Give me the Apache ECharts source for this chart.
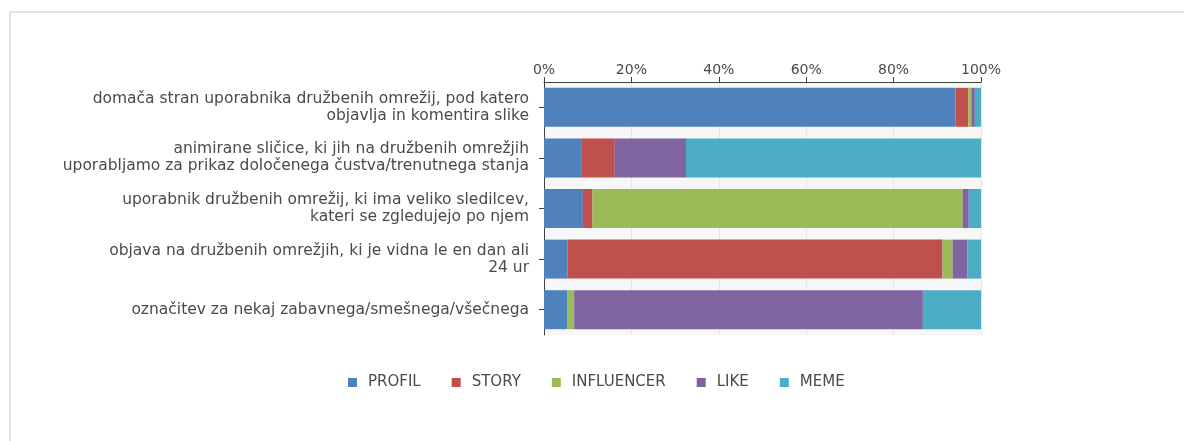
<!DOCTYPE html>
<html>
<head>
<meta charset="utf-8">
<script src="https://cdn.jsdelivr.net/npm/echarts@6/dist/echarts.min.js"></script>
<style>
html, body { margin: 0; padding: 0; background: #fff; }
#frame { position: absolute; left: 9px; top: 11px; width: 1200px; height: 460px; border: 2px solid #e2e2e2; box-sizing: border-box; }
#chart { position: absolute; left: 0; top: 0; width: 1184px; height: 441px; }
</style>
</head>
<body>
<div id="frame"></div>
<div id="chart"></div>
<script>
// kategorije (od zgoraj navzdol)
const categories = [
  'domača stran uporabnika družbenih omrežij, pod katero\nobjavlja in komentira slike',
  'animirane sličice, ki jih na družbenih omrežjih\nuporabljamo za prikaz določenega čustva/trenutnega stanja',
  'uporabnik družbenih omrežij, ki ima veliko sledilcev,\nkateri se zgledujejo po njem',
  'objava na družbenih omrežjih, ki je vidna le en dan ali\n24 ur',
  'označitev za nekaj zabavnega/smešnega/všečnega'
];
// deleži v %
const profil = [94.2, 8.5, 8.9, 5.4, 5.4];
const story = [2.9, 7.7, 2.2, 85.8, 0];
const influencer = [0.7, 0, 84.7, 2.3, 1.5];
const like = [0.8, 16.3, 1.4, 3.4, 79.8];
const meme = [1.4, 67.5, 2.8, 3.1, 13.3];
const xTicks = [0, 20, 40, 60, 80, 100];

const seriesNames = ['PROFIL', 'STORY', 'INFLUENCER', 'LIKE', 'MEME'];
const seriesData = [profil, story, influencer, like, meme];
const colors = ['#4f81bd', '#c0504d', '#9bbb59', '#8064a2', '#4bacc6'];

var myChart = echarts.init(document.getElementById('chart'), null, { renderer: 'canvas' });
var font = 'DejaVu Sans';
var option = {
  animation: false,
  color: colors,
  grid: { left: 544, right: 203, top: 82, height: 253, backgroundColor: '#f7f7f7', show: true, borderWidth: 0 },
  legend: {
    left: 343, top: 370, itemWidth: 9, itemHeight: 9, itemGap: 31,
    icon: 'rect',
    textStyle: { fontFamily: font, fontSize: 15, color: '#4a4a4a', padding: [0, 0, 0, 6] },
    data: seriesNames
  },
  xAxis: {
    type: 'value', position: 'top', min: 0, max: 100, interval: 20,
    axisLine: { show: true, lineStyle: { color: '#404040', width: 1 } },
    axisTick: { show: true, length: 5, lineStyle: { color: '#404040' } },
    axisLabel: { formatter: v => xTicks.indexOf(v) >= 0 ? v + '%' : '', fontFamily: font, fontSize: 14, color: '#4a4a4a', margin: 5 },
    splitLine: { show: true, lineStyle: { color: '#e6e6e6' } }
  },
  yAxis: {
    type: 'category', inverse: true, data: categories,
    axisLine: { show: true, lineStyle: { color: '#404040' } },
    axisTick: { show: true, alignWithLabel: true, length: 5, lineStyle: { color: '#404040' } },
    axisLabel: { fontFamily: font, fontSize: 15.5, color: '#4a4a4a', lineHeight: 17, align: 'right', margin: 15 }
  },
  series: seriesNames.map((n, i) => ({
    name: n, type: 'bar', stack: 'total', data: seriesData[i],
    barCategoryGap: '23%'
  }))
};
myChart.setOption(option);
</script>
</body>
</html>
